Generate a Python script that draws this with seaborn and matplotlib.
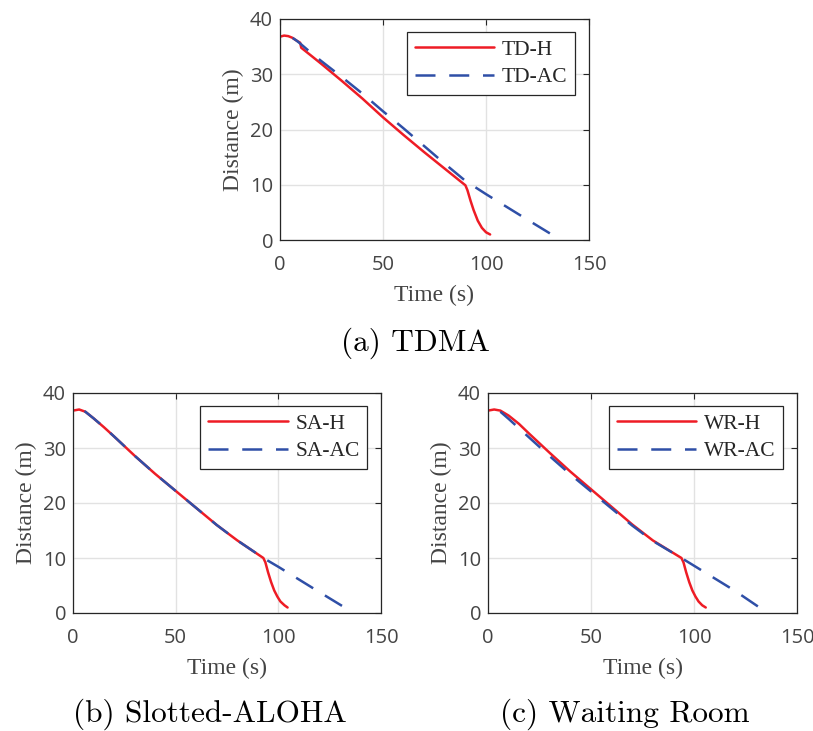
import numpy as np
import pandas as pd
import matplotlib
matplotlib.use("Agg")
import matplotlib.pyplot as plt
import seaborn as sns

# -----------------------------
# Data
# -----------------------------
# TDMA
td_h_t = [0, 2, 4, 6, 8, 9.8, 10.3, 15, 20, 30, 40, 50, 60, 70, 80, 90, 91, 92.5, 94, 96, 98, 100, 102]
td_h_d = [36.8, 37.0, 36.9, 36.6, 36.1, 35.7, 34.8, 33.4, 31.9, 28.8, 25.6, 22.2, 19.0, 15.9, 12.9, 9.9, 9.0, 7.1, 5.4, 3.5, 2.2, 1.4, 1.0]
td_ac_t = [0, 2, 4, 6, 8, 10, 15, 20, 30, 40, 50, 60, 70, 80, 90, 100, 110, 120, 131]
td_ac_d = [36.8, 37.0, 36.9, 36.6, 36.1, 35.5, 33.9, 32.4, 29.5, 26.5, 23.3, 20.2, 17.0, 13.8, 10.7, 8.3, 6.0, 3.7, 1.2]

# Slotted-ALOHA
sa_h_t = [0, 3, 6, 10, 15, 20, 30, 40, 50, 60, 70, 80, 92.7, 93.7, 95, 96.5, 98, 99.5, 101, 103, 104.5]
sa_h_d = [36.8, 37.0, 36.6, 35.4, 33.8, 32.1, 28.6, 25.3, 22.2, 19.1, 16.0, 13.2, 10.0, 9.2, 7.4, 5.6, 4.1, 3.0, 2.1, 1.4, 1.0]
sa_ac_t = [0, 3, 6, 10, 15, 20, 30, 40, 50, 60, 70, 80, 92.7, 100, 110, 120, 131]
sa_ac_d = [36.8, 37.0, 36.6, 35.4, 33.8, 32.1, 28.6, 25.3, 22.2, 19.1, 16.0, 13.2, 10.0, 8.4, 6.1, 3.8, 1.3]

# Waiting Room
wr_h_t = [0, 3, 6, 10, 15, 20, 30, 40, 50, 60, 70, 80, 93.9, 94.9, 96.2, 97.7, 99.2, 100.7, 102.2, 104, 105.7]
wr_h_d = [36.8, 37.0, 36.8, 35.9, 34.4, 32.6, 29.1, 25.7, 22.5, 19.3, 16.1, 13.2, 10.0, 9.2, 7.4, 5.6, 4.1, 3.0, 2.1, 1.4, 1.0]
wr_ac_t = [0, 3, 6, 10, 15, 20, 30, 40, 50, 60, 70, 80, 93.9, 100, 110, 120, 131]
wr_ac_d = [36.8, 37.0, 36.6, 35.3, 33.6, 31.9, 28.5, 25.2, 22.1, 19.0, 15.9, 13.1, 10.0, 8.6, 6.3, 4.0, 1.2]

panels = [
    ("TD", td_h_t, td_h_d, td_ac_t, td_ac_d, "(a) TDMA"),
    ("SA", sa_h_t, sa_h_d, sa_ac_t, sa_ac_d, "(b) Slotted-ALOHA"),
    ("WR", wr_h_t, wr_h_d, wr_ac_t, wr_ac_d, "(c) Waiting Room"),
]

x_ticks = [0, 50, 100, 150]
y_ticks = [0, 10, 20, 30, 40]

RED = "#EE1C25"
BLUE = "#2F4FA7"
GRAY = "#444444"

sns.set_style("white")

fig = plt.figure(figsize=(8.13, 7.31), dpi=100)
# axes boxes in figure fractions: left, bottom, width, height
boxes = [
    (280 / 813, 1 - 240 / 731, 309 / 813, 221 / 731),
    (73 / 813, 1 - 613 / 731, 308 / 813, 220 / 731),
    (488 / 813, 1 - 613 / 731, 309 / 813, 220 / 731),
]
caption_pos = [(415 / 813, 1 - 343 / 731), (210 / 813, 1 - 714 / 731), (625 / 813, 1 - 714 / 731)]

for (tag, ht, hd, at, ad, cap), box, cpos in zip(panels, boxes, caption_pos):
    ax = fig.add_axes(box)
    h_df = pd.DataFrame({"t": ht, "d": hd})
    # drawn from the far end so the dash pattern starts where the line ends
    a_df = pd.DataFrame({"t": at, "d": ad}).iloc[::-1]
    sns.lineplot(data=h_df, x="t", y="d", ax=ax, color=RED, lw=1.8,
                 sort=False, estimator=None, label=f"{tag}-H")
    sns.lineplot(data=a_df, x="t", y="d", ax=ax, color=BLUE, lw=1.8,
                 sort=False, estimator=None, label=f"{tag}-AC",
                 linestyle=(0, (8, 5.5)))

    ax.set_xlim(0, 150)
    ax.set_ylim(0, 40)
    ax.set_xticks(x_ticks)
    ax.set_yticks(y_ticks)
    ax.grid(True, color="#e2e2e2", lw=1.0)
    ax.set_axisbelow(True)
    ax.tick_params(direction="in", length=4, width=0.8, top=True, right=True,
                   colors="#262626", labelcolor=GRAY, labelsize=14.5)
    ax.tick_params(axis="x", pad=11)
    ax.tick_params(axis="y", pad=5)
    for lab in ax.get_xticklabels() + ax.get_yticklabels():
        lab.set_family("Open Sans")
    for sp in ax.spines.values():
        sp.set_color("#262626")
        sp.set_linewidth(0.9)

    ax.set_xlabel("Time (s)", family="Liberation Serif", fontsize=17, color=GRAY, labelpad=7)
    ax.set_ylabel("Distance (m)", family="Liberation Serif", fontsize=17, color=GRAY, labelpad=4)

    leg = ax.legend(loc="upper right", bbox_to_anchor=(1 - 14 / 309, 1 - 13 / 221),
                    borderaxespad=0, handlelength=3.7, fancybox=False, frameon=True,
                    prop={"family": "Liberation Serif", "size": 15.5},
                    borderpad=0.35, labelspacing=0.35, handletextpad=0.35)
    leg.get_frame().set_edgecolor("#262626")
    leg.get_frame().set_linewidth(0.9)
    leg.get_frame().set_alpha(1)

    fig.text(cpos[0], cpos[1], cap, family="cmr10", fontsize=22.5, ha="center", va="center", color="black")

fig.savefig("out.png", dpi=100)
